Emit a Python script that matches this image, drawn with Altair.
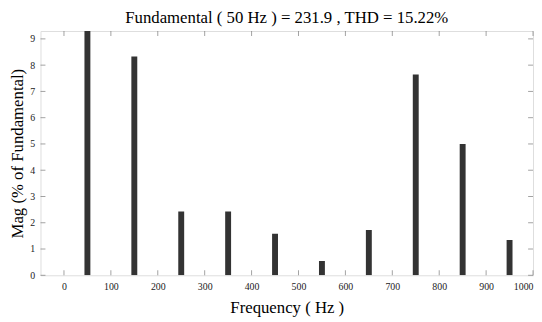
import altair as alt
import pandas as pd

freqs = [50, 150, 250, 350, 450, 550, 650, 750, 850, 950]
mags = [100.0, 8.33, 2.43, 2.43, 1.58, 0.54, 1.72, 7.64, 5.0, 1.34]
x_ticks = [0, 100, 200, 300, 400, 500, 600, 700, 800, 900, 1000]
y_ticks = [0, 1, 2, 3, 4, 5, 6, 7, 8, 9]
x_domain = [-50, 1000]
y_domain = [0, 9.3]
title_text = "Fundamental ( 50 Hz ) = 231.9 , THD = 15.22%"

bars_df = pd.DataFrame({"f": freqs, "m": mags})
xt_df = pd.DataFrame({"v": x_ticks})
yt_df = pd.DataFrame({"v": y_ticks})

tick_font = "Liberation Sans Narrow"
serif = "Liberation Serif"
gray = "#7a7a7a"

xscale = alt.Scale(domain=x_domain, nice=False, zero=False, padding=0)
yscale = alt.Scale(domain=y_domain, nice=False, zero=False, padding=0)

x_axis = alt.Axis(values=x_ticks, ticks=False, domain=False, grid=False,
                  format="d", labelOverlap=False, labelFlush=True,
                  labelFont=tick_font, labelFontSize=10, labelColor="#222",
                  labelPadding=6, title="Frequency ( Hz )",
                  titleFont=serif, titleFontSize=17, titleFontWeight="normal",
                  titleColor="#000", titlePadding=9)
y_axis = alt.Axis(values=y_ticks, ticks=False, domain=False, grid=False,
                  labelOverlap=False,
                  labelFont=tick_font, labelFontSize=10, labelColor="#222",
                  labelPadding=6, title="Mag (% of Fundamental)",
                  titleFont=serif, titleFontSize=17, titleFontWeight="normal",
                  titleColor="#000", titlePadding=3)

bars = alt.Chart(bars_df).mark_bar(size=6, color="#333333", clip=True).encode(
    x=alt.X("f:Q", scale=xscale, axis=x_axis),
    y=alt.Y("m:Q", scale=yscale, axis=y_axis),
)

def tick_layer(df, orient, fixed_val, off):
    if orient == "vertical":
        return alt.Chart(df).mark_tick(orient="vertical", size=5, thickness=1, color=gray, yOffset=off).encode(
            x=alt.X("v:Q", scale=xscale, axis=x_axis), y=alt.Y("z:Q", scale=yscale, axis=y_axis)
        ).transform_calculate(z=str(fixed_val))
    return alt.Chart(df).mark_tick(orient="horizontal", size=5, thickness=1, color=gray, xOffset=off).encode(
        y=alt.Y("v:Q", scale=yscale, axis=y_axis), x=alt.X("z:Q", scale=xscale, axis=x_axis)
    ).transform_calculate(z=str(fixed_val))

bottom_t = tick_layer(xt_df, "vertical", y_domain[0], -2.5)
top_t = tick_layer(xt_df, "vertical", y_domain[1], 2.5)
left_t = tick_layer(yt_df, "horizontal", x_domain[0], 2.5)
right_t = tick_layer(yt_df, "horizontal", x_domain[1], -2.5)

chart = alt.layer(bars, bottom_t, top_t, left_t, right_t).properties(
    width=500, height=248,
    title=alt.TitleParams(title_text, font=serif, fontSize=17, fontWeight="normal",
                          color="#000", offset=4, anchor="middle"),
    autosize=alt.AutoSizeParams(type="none"),
    padding={"left": 33, "top": 21, "right": 1, "bottom": 40},
).configure_view(stroke=gray, strokeWidth=1.2).configure(background="white")

chart.save("out.html", embed_options={"renderer": "svg", "actions": False})
